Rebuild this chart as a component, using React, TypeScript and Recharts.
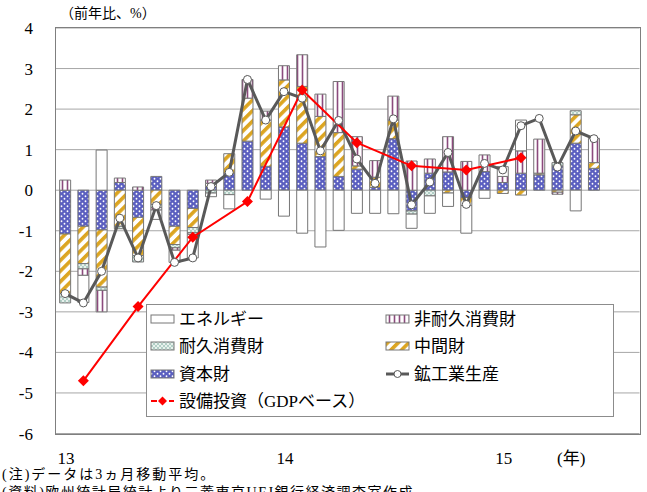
import React from 'react';
import { ComposedChart, Bar, Line, XAxis, YAxis, CartesianGrid } from 'recharts';

// monthly categories, Jan 2013 .. Aug 2015 (last two are empty slots)
const months = [
  '2013-01', '2013-02', '2013-03', '2013-04', '2013-05', '2013-06',
  '2013-07', '2013-08', '2013-09', '2013-10', '2013-11', '2013-12',
  '2014-01', '2014-02', '2014-03', '2014-04', '2014-05', '2014-06',
  '2014-07', '2014-08', '2014-09', '2014-10', '2014-11', '2014-12',
  '2015-01', '2015-02', '2015-03', '2015-04', '2015-05', '2015-06',
  '2015-07', '2015-08',
];
const yearLabels: Record<string, string> = { '2013-01': '13', '2014-01': '14', '2015-01': '15' };
const yTicks = [-6, -5, -4, -3, -2, -1, 0, 1, 2, 3, 4];

// contributions by goods type (pt)
const capital = [-1.08, -0.89, -0.98, 0.19, -0.67, 0.34, -0.89, -0.45, 0.09, 0.42, 1.21, 0.59, 1.56, 1.16, 0.83, 0.34, 0.52, 0.07, 1.27, -0.51, 0.42, 0.45, -0.18, 0.46, 0.19, 0.42, 0.38, 0.6, 1.16, 0.54];
const intermediate = [-1.47, -0.92, -1.41, -0.89, -0.94, -0.35, -0.45, -0.47, 0.08, 0.48, 1.06, 1.14, 1.16, 1.4, 0.99, 1.08, 0.08, 0.25, 0.46, 0, 0, -0.07, -0.2, 0, -0.08, -0.12, 0.04, -0.05, 0.7, 0.14];
const durable = [-0.23, -0.13, -0.08, -0.06, -0.16, -0.08, -0.08, -0.13, -0.07, -0.11, 0, 0, 0, 0, 0, 0, 0, 0, 0, -0.08, -0.14, 0, 0, 0, 0, 0, 0, 0.08, 0.1, 0];
const nondurable = [0.25, -0.16, -0.53, 0.11, 0.08, -0.06, -0.06, -0.04, 0.08, 0, 0.46, 0.22, 0.35, 0.78, 0.55, 1.26, 0.72, 0.41, 0.59, 0.72, 0.35, 0.87, 0.71, 0.41, 0.15, 0.55, 0.84, -0.05, 0, 0.6];
const energy = [0, -0.67, 0.99, 0, 0, -0.23, -0.3, -0.58, -0.09, -0.35, 0, -0.22, -0.64, -1.06, -1.4, -0.99, -0.57, -0.57, -0.58, -0.35, -0.43, -0.33, -0.68, -0.2, 0.24, 0.76, 0, 0, -0.51, 0];

// industrial production, yoy %
const production = [-2.55, -2.78, -2.0, -0.69, -1.67, -0.38, -1.78, -1.67, 0.09, 0.44, 2.73, 1.73, 2.43, 2.27, 0.97, 1.72, 0.77, 0.17, 1.76, -0.36, 0.2, 0.93, -0.35, 0.66, 0.5, 1.59, 1.77, 0.57, 1.46, 1.27];

// equipment investment (GDP basis), quarterly, plotted at mid-quarter
const capexMonths = ['2013-02', '2013-05', '2013-08', '2013-11', '2014-02', '2014-05', '2014-08', '2014-11', '2015-02'];
const capex = [-4.7, -2.87, -1.16, -0.28, 2.47, 1.17, 0.6, 0.5, 0.8];

const rows = months.map((m, i) => {
  const q = capexMonths.indexOf(m);
  return {
    m,
    capital: capital[i],
    intermediate: intermediate[i],
    durable: durable[i],
    nondurable: nondurable[i],
    energy: energy[i],
    production: production[i],
    capex: q >= 0 ? capex[q] : null,
  };
});

const W = 647;
const H = 492;
const SERIF = '"Liberation Serif", "Times New Roman", serif';
const JP = '"Liberation Serif", "Noto Sans CJK JP", serif';
const BAR_STROKE = '#767676';
const GRAY = '#595959';
const RED = '#ff0000';

const XTick = ({ x, payload }: any) => {
  const label = yearLabels[payload.value];
  if (!label) return <g />;
  return (
    <text x={x + 1} y={464} textAnchor="middle" fontSize={17} fontFamily={SERIF} fill="#000">
      {label}
    </text>
  );
};

const YTick = ({ y, payload }: any) => (
  <text x={33} y={y + 6} textAnchor="end" fontSize={17} fontFamily={SERIF} fill="#000">
    {payload.value}
  </text>
);

const diamond = (cx: number, cy: number, r: number) =>
  `M${cx},${cy - r} L${cx + r},${cy} L${cx},${cy + r} L${cx - r},${cy} Z`;

const CapexDot = (props: any) => {
  const { cx, cy, index } = props;
  if (cy == null || Number.isNaN(cy)) return <g key={`d${index}`} />;
  return <path key={`d${index}`} d={diamond(cx, cy, 5.5)} fill={RED} />;
};

function Patterns() {
  return (
    <defs>
      <pattern id="pCap" width="6" height="5" patternUnits="userSpaceOnUse">
        <rect width="6" height="5" fill="#5b5fc0" />
        <circle cx="1.5" cy="1.25" r="0.9" fill="#fff" />
        <circle cx="4.5" cy="3.75" r="0.9" fill="#fff" />
      </pattern>
      <pattern id="pInt" width="7.5" height="7.5" patternUnits="userSpaceOnUse" patternTransform="rotate(45)">
        <rect width="7.5" height="7.5" fill="#fff" />
        <rect width="3.6" height="7.5" fill="#dca521" />
      </pattern>
      <pattern id="pDur" width="4" height="4" patternUnits="userSpaceOnUse">
        <rect width="4" height="4" fill="#e8f1ed" />
        <circle cx="1" cy="1" r="0.75" fill="#5e9c8c" />
        <circle cx="3" cy="3" r="0.75" fill="#5e9c8c" />
      </pattern>
      <pattern id="pNon" width="5" height="5" patternUnits="userSpaceOnUse">
        <rect width="5" height="5" fill="#fff" />
        <rect x="1.7" width="1.6" height="5" fill="#8b4a7d" />
      </pattern>
    </defs>
  );
}

function LegendBox() {
  const rowY = [14, 41, 69, 96];
  const lx = 4;
  const rx = 239;
  const iw = 23;
  const ih = 8;
  const txt = (x: number, y: number, s: string) => (
    <text x={x} y={y + 6} fontSize={17} fontFamily={JP} fill="#000">
      {s}
    </text>
  );
  const box = (x: number, y: number, fill: string) => (
    <rect x={x} y={y - ih / 2} width={iw} height={ih} fill={fill} stroke={BAR_STROKE} strokeWidth={1} />
  );
  return (
    <div
      style={{
        position: 'absolute',
        left: 146,
        top: 304,
        width: 466,
        height: 111,
        border: '1px solid #8c8c8c',
        background: '#fff',
      }}
    >
      <svg width={466} height={111} style={{ display: 'block' }}>
        {box(lx, rowY[0], '#fff')}
        {txt(lx + 28, rowY[0], 'エネルギー')}
        {box(rx, rowY[0], 'url(#pNon)')}
        {txt(rx + 28, rowY[0], '非耐久消費財')}

        {box(lx, rowY[1], 'url(#pDur)')}
        {txt(lx + 28, rowY[1], '耐久消費財')}
        {box(rx, rowY[1], 'url(#pInt)')}
        {txt(rx + 28, rowY[1], '中間財')}

        {box(lx, rowY[2], 'url(#pCap)')}
        {txt(lx + 28, rowY[2], '資本財')}
        <line x1={rx} x2={rx + iw} y1={rowY[2]} y2={rowY[2]} stroke={GRAY} strokeWidth={3} />
        <circle cx={rx + iw / 2} cy={rowY[2]} r={3.5} fill="#fff" stroke={GRAY} strokeWidth={1} />
        {txt(rx + 28, rowY[2], '鉱工業生産')}

        <line x1={lx} x2={lx + iw} y1={rowY[3]} y2={rowY[3]} stroke={RED} strokeWidth={2} strokeDasharray="6 3" />
        <path d={diamond(lx + iw / 2, rowY[3], 4.5)} fill={RED} />
        {txt(lx + 28, rowY[3], '設備投資（GDPベース）')}
      </svg>
    </div>
  );
}

export default function App() {
  return (
    <div
      style={{
        position: 'absolute',
        left: 0,
        top: 0,
        width: W,
        height: H,
        background: '#fff',
        overflow: 'hidden',
      }}
    >
      <ComposedChart
        width={W}
        height={H}
        data={rows}
        stackOffset="sign"
        barCategoryGap="20%"
        margin={{ top: 28, right: 7.5, bottom: 0, left: 0 }}
      >
        <Patterns />
        <CartesianGrid vertical={false} stroke="#a6a6a6" strokeWidth={1} />
        <XAxis dataKey="m" interval={0} height={58.5} tickLine={false} axisLine={false} tick={XTick} />
        <YAxis
          type="number"
          domain={[-6, 4]}
          ticks={yTicks}
          interval={0}
          width={56}
          tickLine={false}
          axisLine={false}
          tick={YTick}
        />
        <Bar dataKey="capital" stackId="s" fill="url(#pCap)" stroke={BAR_STROKE} strokeWidth={1} isAnimationActive={false} />
        <Bar dataKey="intermediate" stackId="s" fill="url(#pInt)" stroke={BAR_STROKE} strokeWidth={1} isAnimationActive={false} />
        <Bar dataKey="durable" stackId="s" fill="url(#pDur)" stroke={BAR_STROKE} strokeWidth={1} isAnimationActive={false} />
        <Bar dataKey="nondurable" stackId="s" fill="url(#pNon)" stroke={BAR_STROKE} strokeWidth={1} isAnimationActive={false} />
        <Bar dataKey="energy" stackId="s" fill="#fff" stroke={BAR_STROKE} strokeWidth={1} isAnimationActive={false} />
        <Line
          dataKey="production"
          stroke={GRAY}
          strokeWidth={3}
          dot={{ r: 4, fill: '#fff', stroke: GRAY, strokeWidth: 1 }}
          activeDot={false}
          isAnimationActive={false}
        />
        <Line
          dataKey="capex"
          stroke={RED}
          strokeWidth={2}
          connectNulls
          dot={CapexDot}
          activeDot={false}
          isAnimationActive={false}
        />
      </ComposedChart>

      {/* plot frame */}
      <div
        style={{
          position: 'absolute',
          left: 55,
          top: 27,
          width: 584,
          height: 406,
          border: '1.5px solid #7f7f7f',
          pointerEvents: 'none',
        }}
      />

      <LegendBox />

      <svg width={W} height={H} style={{ position: 'absolute', left: 0, top: 0, pointerEvents: 'none' }}>
        <text x={60} y={18} fontSize={14} fontFamily={JP} fill="#000">
          （前年比、%）
        </text>
        <text x={557} y={464} fontSize={17} fontFamily={JP} fill="#000">
          (年)
        </text>
        <text x={2} y={479} fontSize={14} fontFamily={JP} fill="#000" letterSpacing={2}>
          (注)データは3ヵ月移動平均。
        </text>
        <text x={2} y={497} fontSize={14} fontFamily={JP} fill="#000" letterSpacing={1.5}>
          (資料)欧州統計局統計より三菱東京UFJ銀行経済調査室作成
        </text>
      </svg>
    </div>
  );
}
